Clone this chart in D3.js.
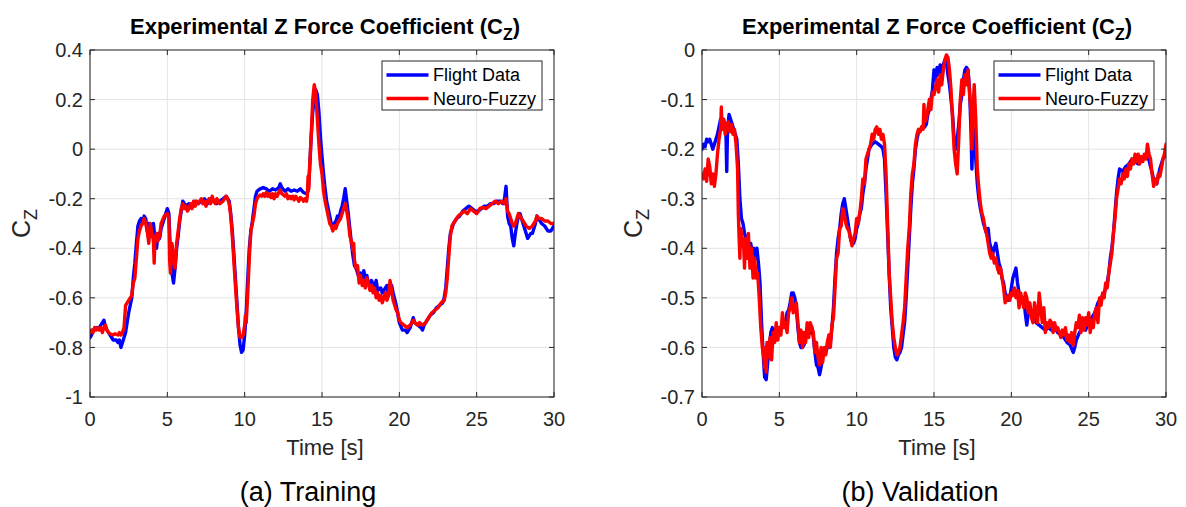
<!DOCTYPE html>
<html>
<head>
<meta charset="utf-8">
<script src="https://cdn.jsdelivr.net/npm/d3@7"></script>
<style>
  html, body { margin: 0; padding: 0; background: #fff; }
  svg { display: block; font-family: "Liberation Sans", Arial, Helvetica, sans-serif; }
</style>
</head>
<body>
<svg id="chart" width="1186" height="507"></svg>
<script>
// ---------------- DATA ----------------
const xTicks = [0, 5, 10, 15, 20, 25, 30];
const yTicksTrain = [-1, -0.8, -0.6, -0.4, -0.2, 0, 0.2, 0.4];
const yTicksValid = [-0.7, -0.6, -0.5, -0.4, -0.3, -0.2, -0.1, 0];
const seriesNames = ["Flight Data", "Neuro-Fuzzy"];
const captions = ["(a) Training", "(b) Validation"];

// Training — Flight Data  [time s, Cz]
const trainFlight = [
[0.0,-0.76],[0.1,-0.75],[0.2,-0.73],[0.4,-0.72],[0.6,-0.72],[0.8,-0.70],[0.9,-0.69],[1.0,-0.72],[1.2,-0.74],[1.4,-0.76],
[1.5,-0.77],[1.7,-0.77],[1.8,-0.78],[1.9,-0.77],[2.0,-0.80],[2.1,-0.78],[2.3,-0.74],[2.5,-0.66],[2.7,-0.60],[2.8,-0.52],
[2.9,-0.46],[3.0,-0.38],[3.1,-0.31],[3.2,-0.29],[3.3,-0.28],[3.4,-0.30],[3.5,-0.27],[3.6,-0.28],[3.7,-0.33],[3.8,-0.30],
[3.9,-0.34],[4.0,-0.31],[4.1,-0.30],[4.2,-0.36],[4.3,-0.40],[4.4,-0.34],[4.5,-0.36],[4.6,-0.32],[4.8,-0.28],[5.0,-0.24],
[5.1,-0.26],[5.2,-0.42],[5.3,-0.50],[5.4,-0.54],[5.5,-0.48],[5.6,-0.40],[5.7,-0.35],[5.8,-0.29],[5.9,-0.25],[6.0,-0.21],
[6.1,-0.22],[6.2,-0.23],[6.4,-0.22],[6.6,-0.23],[6.8,-0.21],[7.0,-0.22],[7.2,-0.21],[7.4,-0.20],[7.6,-0.22],[7.8,-0.20],
[8.0,-0.21],[8.2,-0.22],[8.4,-0.21],[8.6,-0.20],[8.8,-0.19],[9.0,-0.21],[9.1,-0.26],[9.2,-0.33],[9.3,-0.42],[9.4,-0.52],
[9.5,-0.62],[9.6,-0.72],[9.7,-0.79],[9.8,-0.82],[9.9,-0.81],[10.0,-0.75],[10.1,-0.66],[10.2,-0.52],[10.3,-0.40],[10.4,-0.33],
[10.5,-0.29],[10.6,-0.24],[10.7,-0.19],[10.8,-0.17],[11.0,-0.16],[11.2,-0.155],[11.4,-0.16],[11.6,-0.17],[11.8,-0.16],[12.0,-0.165],
[12.2,-0.155],[12.3,-0.14],[12.4,-0.155],[12.6,-0.17],[12.8,-0.16],[13.0,-0.17],[13.2,-0.165],[13.4,-0.17],[13.6,-0.16],[13.8,-0.175],
[14.0,-0.18],[14.1,-0.17],[14.2,-0.08],[14.3,0.05],[14.4,0.15],[14.5,0.20],[14.6,0.24],[14.7,0.22],[14.8,0.15],[14.9,0.05],
[15.0,-0.03],[15.1,-0.10],[15.2,-0.16],[15.3,-0.21],[15.4,-0.24],[15.5,-0.27],[15.6,-0.30],[15.7,-0.31],[15.8,-0.30],[15.9,-0.29],
[16.0,-0.27],[16.1,-0.28],[16.2,-0.25],[16.3,-0.23],[16.4,-0.20],[16.5,-0.16],[16.6,-0.21],[16.7,-0.26],[16.8,-0.32],[16.9,-0.38],
[17.0,-0.43],[17.1,-0.47],[17.2,-0.48],[17.3,-0.50],[17.4,-0.52],[17.5,-0.50],[17.6,-0.53],[17.7,-0.49],[17.8,-0.52],[17.9,-0.51],
[18.0,-0.54],[18.1,-0.55],[18.2,-0.53],[18.4,-0.56],[18.5,-0.53],[18.6,-0.57],[18.8,-0.56],[18.9,-0.58],[19.0,-0.57],[19.2,-0.55],
[19.3,-0.59],[19.5,-0.55],[19.6,-0.58],[19.8,-0.63],[20.0,-0.70],[20.2,-0.73],[20.4,-0.73],[20.5,-0.74],[20.7,-0.72],[20.9,-0.68],
[21.0,-0.70],[21.2,-0.71],[21.4,-0.72],[21.5,-0.73],[21.6,-0.71],[21.8,-0.69],[22.0,-0.67],[22.2,-0.66],[22.4,-0.64],[22.6,-0.63],
[22.8,-0.62],[22.9,-0.60],[23.0,-0.56],[23.1,-0.48],[23.2,-0.40],[23.3,-0.34],[23.5,-0.30],[23.7,-0.28],[23.9,-0.27],[24.1,-0.25],
[24.3,-0.24],[24.5,-0.23],[24.7,-0.24],[24.9,-0.25],[25.1,-0.25],[25.3,-0.24],[25.5,-0.23],[25.7,-0.23],[25.9,-0.22],[26.1,-0.22],
[26.3,-0.21],[26.5,-0.21],[26.7,-0.22],[26.8,-0.20],[26.9,-0.15],[27.0,-0.27],[27.1,-0.30],[27.2,-0.31],[27.3,-0.36],[27.4,-0.39],
[27.5,-0.34],[27.6,-0.30],[27.7,-0.27],[27.8,-0.26],[27.9,-0.28],[28.0,-0.30],[28.1,-0.32],[28.2,-0.34],[28.3,-0.36],[28.4,-0.35],
[28.5,-0.34],[28.6,-0.34],[28.8,-0.30],[28.9,-0.27],[29.0,-0.28],[29.2,-0.30],[29.4,-0.31],[29.6,-0.33],[29.8,-0.33],[30.0,-0.31]
];

// Training — Neuro-Fuzzy
const trainNF = [
[0.0,-0.74],[0.1,-0.73],[0.2,-0.74],[0.3,-0.72],[0.4,-0.73],[0.5,-0.72],[0.6,-0.73],[0.7,-0.72],[0.8,-0.74],[0.9,-0.72],
[1.0,-0.71],[1.1,-0.73],[1.2,-0.74],[1.3,-0.745],[1.5,-0.75],[1.6,-0.745],[1.8,-0.75],[1.9,-0.74],[2.0,-0.75],[2.1,-0.74],
[2.2,-0.72],[2.3,-0.63],[2.4,-0.62],[2.6,-0.60],[2.7,-0.59],[2.8,-0.54],[2.9,-0.52],[3.0,-0.44],[3.1,-0.36],[3.2,-0.33],
[3.3,-0.31],[3.4,-0.30],[3.5,-0.28],[3.6,-0.30],[3.7,-0.33],[3.8,-0.38],[3.9,-0.30],[4.0,-0.34],[4.1,-0.37],[4.15,-0.46],
[4.2,-0.36],[4.3,-0.34],[4.4,-0.37],[4.5,-0.35],[4.6,-0.30],[4.8,-0.27],[5.0,-0.26],[5.1,-0.28],[5.15,-0.45],[5.2,-0.50],
[5.3,-0.38],[5.4,-0.44],[5.5,-0.48],[5.6,-0.38],[5.7,-0.33],[5.8,-0.28],[5.9,-0.24],[6.0,-0.22],[6.1,-0.24],[6.2,-0.23],
[6.3,-0.25],[6.4,-0.24],[6.5,-0.22],[6.6,-0.24],[6.7,-0.21],[6.8,-0.23],[6.9,-0.21],[7.0,-0.22],[7.2,-0.20],[7.3,-0.22],
[7.4,-0.21],[7.5,-0.23],[7.6,-0.21],[7.7,-0.20],[7.8,-0.22],[7.9,-0.19],[8.0,-0.21],[8.1,-0.22],[8.2,-0.20],[8.3,-0.21],
[8.4,-0.22],[8.6,-0.21],[8.7,-0.20],[8.8,-0.19],[8.9,-0.20],[9.0,-0.22],[9.1,-0.27],[9.2,-0.35],[9.3,-0.45],[9.4,-0.55],
[9.5,-0.64],[9.6,-0.72],[9.7,-0.76],[9.8,-0.76],[9.9,-0.75],[10.0,-0.71],[10.05,-0.67],[10.1,-0.70],[10.2,-0.58],[10.3,-0.44],
[10.4,-0.33],[10.5,-0.30],[10.6,-0.27],[10.7,-0.22],[10.8,-0.20],[10.9,-0.19],[11.0,-0.185],[11.1,-0.19],[11.2,-0.18],[11.3,-0.19],
[11.4,-0.175],[11.5,-0.19],[11.6,-0.18],[11.7,-0.195],[11.8,-0.18],[11.9,-0.20],[12.0,-0.18],[12.1,-0.19],[12.2,-0.175],[12.3,-0.165],
[12.4,-0.18],[12.5,-0.185],[12.6,-0.19],[12.7,-0.18],[12.8,-0.20],[12.9,-0.19],[13.0,-0.20],[13.1,-0.19],[13.2,-0.205],[13.3,-0.19],
[13.4,-0.20],[13.5,-0.21],[13.6,-0.195],[13.7,-0.20],[13.8,-0.21],[13.9,-0.20],[14.0,-0.21],[14.05,-0.19],[14.1,-0.11],[14.15,-0.16],
[14.2,-0.07],[14.3,0.05],[14.4,0.20],[14.5,0.26],[14.6,0.22],[14.7,0.12],[14.8,0.02],[14.9,-0.06],[15.0,-0.10],[15.1,-0.17],
[15.2,-0.21],[15.3,-0.24],[15.4,-0.27],[15.5,-0.30],[15.6,-0.31],[15.7,-0.33],[15.8,-0.31],[15.9,-0.32],[16.0,-0.30],[16.1,-0.29],
[16.2,-0.28],[16.3,-0.26],[16.4,-0.24],[16.5,-0.22],[16.6,-0.25],[16.7,-0.29],[16.8,-0.35],[16.9,-0.37],[17.0,-0.41],[17.05,-0.38],
[17.1,-0.45],[17.2,-0.48],[17.3,-0.47],[17.4,-0.54],[17.5,-0.51],[17.6,-0.55],[17.7,-0.53],[17.8,-0.56],[17.9,-0.52],[18.0,-0.54],
[18.1,-0.57],[18.2,-0.55],[18.3,-0.58],[18.4,-0.56],[18.5,-0.60],[18.6,-0.58],[18.7,-0.61],[18.8,-0.59],[18.9,-0.62],[19.0,-0.60],
[19.1,-0.58],[19.2,-0.61],[19.3,-0.59],[19.4,-0.53],[19.5,-0.57],[19.6,-0.61],[19.7,-0.63],[19.8,-0.65],[19.9,-0.66],[20.0,-0.69],
[20.1,-0.70],[20.3,-0.71],[20.5,-0.72],[20.7,-0.71],[20.9,-0.69],[21.0,-0.70],[21.2,-0.71],[21.3,-0.70],[21.5,-0.71],[21.7,-0.70],
[21.9,-0.68],[22.1,-0.66],[22.3,-0.65],[22.5,-0.64],[22.7,-0.62],[22.9,-0.61],[23.0,-0.58],[23.1,-0.52],[23.2,-0.43],[23.3,-0.35],
[23.4,-0.31],[23.6,-0.29],[23.8,-0.27],[24.0,-0.26],[24.2,-0.25],[24.4,-0.26],[24.6,-0.24],[24.8,-0.25],[25.0,-0.26],[25.2,-0.24],
[25.4,-0.235],[25.6,-0.24],[25.8,-0.23],[26.0,-0.22],[26.2,-0.21],[26.4,-0.22],[26.6,-0.21],[26.8,-0.22],[26.9,-0.20],[27.0,-0.25],
[27.1,-0.26],[27.2,-0.28],[27.3,-0.30],[27.4,-0.31],[27.5,-0.30],[27.6,-0.28],[27.7,-0.26],[27.8,-0.27],[28.0,-0.29],[28.2,-0.31],
[28.4,-0.32],[28.6,-0.31],[28.8,-0.29],[28.9,-0.27],[29.0,-0.28],[29.2,-0.28],[29.4,-0.29],[29.6,-0.29],[29.8,-0.30],[30.0,-0.30]
];

// Validation — Flight Data
const validFlight = [
[0.0,-0.20],[0.1,-0.19],[0.2,-0.195],[0.3,-0.18],[0.4,-0.185],[0.5,-0.18],[0.6,-0.19],[0.7,-0.20],[0.8,-0.19],[0.9,-0.18],
[1.0,-0.17],[1.1,-0.155],[1.2,-0.14],[1.3,-0.145],[1.4,-0.14],[1.5,-0.16],[1.55,-0.17],[1.6,-0.245],[1.65,-0.16],[1.75,-0.13],
[1.85,-0.14],[1.95,-0.15],[2.05,-0.16],[2.15,-0.17],[2.25,-0.18],[2.35,-0.23],[2.45,-0.30],[2.55,-0.34],[2.65,-0.35],[2.75,-0.37],
[2.85,-0.38],[2.95,-0.39],[3.05,-0.40],[3.15,-0.39],[3.25,-0.41],[3.35,-0.40],[3.45,-0.42],[3.55,-0.40],[3.65,-0.43],[3.75,-0.47],
[3.85,-0.55],[3.95,-0.61],[4.05,-0.66],[4.15,-0.665],[4.25,-0.63],[4.35,-0.60],[4.45,-0.57],[4.55,-0.56],[4.65,-0.58],[4.75,-0.565],
[4.85,-0.58],[4.95,-0.56],[5.05,-0.565],[5.2,-0.55],[5.35,-0.56],[5.5,-0.53],[5.6,-0.525],[5.7,-0.51],[5.8,-0.49],[5.9,-0.49],
[6.0,-0.50],[6.1,-0.52],[6.2,-0.56],[6.3,-0.59],[6.4,-0.60],[6.5,-0.60],[6.6,-0.595],[6.7,-0.58],[6.8,-0.57],[6.9,-0.56],
[7.0,-0.57],[7.1,-0.56],[7.2,-0.58],[7.3,-0.61],[7.4,-0.635],[7.5,-0.64],[7.6,-0.655],[7.7,-0.64],[7.8,-0.62],[7.9,-0.61],
[8.0,-0.61],[8.1,-0.60],[8.2,-0.58],[8.3,-0.59],[8.4,-0.56],[8.5,-0.52],[8.6,-0.46],[8.7,-0.41],[8.8,-0.38],[8.9,-0.36],
[9.0,-0.33],[9.1,-0.31],[9.2,-0.30],[9.3,-0.32],[9.4,-0.34],[9.5,-0.36],[9.6,-0.38],[9.7,-0.39],[9.8,-0.39],[9.9,-0.38],
[10.0,-0.36],[10.1,-0.35],[10.2,-0.33],[10.3,-0.32],[10.4,-0.29],[10.5,-0.27],[10.6,-0.24],[10.7,-0.22],[10.8,-0.20],[10.9,-0.195],
[11.0,-0.19],[11.2,-0.185],[11.4,-0.19],[11.6,-0.195],[11.7,-0.20],[11.8,-0.22],[11.9,-0.29],[12.0,-0.37],[12.1,-0.45],[12.2,-0.52],
[12.3,-0.56],[12.4,-0.60],[12.5,-0.62],[12.6,-0.625],[12.7,-0.615],[12.8,-0.61],[12.9,-0.60],[13.0,-0.575],[13.1,-0.55],[13.2,-0.50],
[13.3,-0.44],[13.4,-0.38],[13.5,-0.32],[13.6,-0.27],[13.7,-0.24],[13.8,-0.20],[13.9,-0.18],[14.0,-0.165],[14.2,-0.16],[14.4,-0.155],
[14.5,-0.15],[14.6,-0.13],[14.7,-0.12],[14.8,-0.10],[14.9,-0.08],[15.0,-0.04],[15.1,-0.06],[15.2,-0.035],[15.3,-0.05],[15.4,-0.03],
[15.5,-0.06],[15.6,-0.03],[15.7,-0.02],[15.8,-0.025],[15.9,-0.05],[16.0,-0.07],[16.1,-0.10],[16.2,-0.13],[16.3,-0.18],[16.4,-0.20],
[16.5,-0.18],[16.6,-0.15],[16.7,-0.11],[16.8,-0.09],[16.9,-0.06],[17.0,-0.04],[17.1,-0.035],[17.2,-0.04],[17.3,-0.08],[17.4,-0.17],
[17.45,-0.24],[17.5,-0.19],[17.6,-0.16],[17.7,-0.22],[17.8,-0.27],[17.9,-0.30],[18.0,-0.32],[18.2,-0.35],[18.4,-0.37],[18.5,-0.36],
[18.6,-0.39],[18.8,-0.41],[18.9,-0.40],[19.0,-0.39],[19.1,-0.41],[19.2,-0.43],[19.3,-0.44],[19.4,-0.46],[19.5,-0.47],[19.6,-0.49],
[19.7,-0.50],[19.8,-0.505],[19.9,-0.50],[20.0,-0.48],[20.1,-0.46],[20.2,-0.45],[20.3,-0.44],[20.4,-0.47],[20.5,-0.49],[20.6,-0.50],
[20.7,-0.505],[20.8,-0.50],[20.9,-0.53],[21.0,-0.555],[21.1,-0.53],[21.2,-0.52],[21.4,-0.535],[21.6,-0.55],[21.8,-0.555],[22.0,-0.56],
[22.2,-0.565],[22.4,-0.56],[22.6,-0.565],[22.8,-0.56],[23.0,-0.57],[23.2,-0.575],[23.4,-0.58],[23.6,-0.59],[23.8,-0.595],[24.0,-0.61],
[24.1,-0.60],[24.2,-0.585],[24.4,-0.57],[24.6,-0.56],[24.8,-0.565],[25.0,-0.55],[25.2,-0.54],[25.4,-0.53],[25.6,-0.51],[25.8,-0.50],
[26.0,-0.49],[26.2,-0.47],[26.3,-0.45],[26.4,-0.42],[26.5,-0.40],[26.6,-0.37],[26.7,-0.33],[26.8,-0.29],[26.9,-0.26],[27.0,-0.24],
[27.2,-0.245],[27.4,-0.235],[27.6,-0.23],[27.8,-0.22],[28.0,-0.225],[28.2,-0.23],[28.4,-0.22],[28.6,-0.215],[28.8,-0.21],[29.0,-0.235],
[29.2,-0.26],[29.4,-0.27],[29.6,-0.24],[29.8,-0.22],[30.0,-0.21]
];

// Validation — Neuro-Fuzzy
const validNF = [
[0.0,-0.25],[0.1,-0.26],[0.2,-0.24],[0.3,-0.265],[0.4,-0.22],[0.5,-0.235],[0.6,-0.27],[0.7,-0.25],[0.8,-0.275],[0.9,-0.25],
[1.0,-0.21],[1.1,-0.18],[1.2,-0.16],[1.25,-0.115],[1.3,-0.16],[1.4,-0.14],[1.5,-0.17],[1.6,-0.15],[1.7,-0.145],[1.8,-0.165],
[1.9,-0.15],[2.0,-0.17],[2.1,-0.16],[2.2,-0.19],[2.3,-0.24],[2.35,-0.33],[2.4,-0.38],[2.45,-0.42],[2.5,-0.36],[2.6,-0.38],
[2.7,-0.40],[2.75,-0.44],[2.8,-0.38],[2.9,-0.42],[3.0,-0.37],[3.1,-0.44],[3.2,-0.40],[3.3,-0.46],[3.4,-0.42],[3.5,-0.46],
[3.6,-0.45],[3.7,-0.50],[3.8,-0.56],[3.9,-0.60],[4.0,-0.62],[4.05,-0.64],[4.1,-0.60],[4.15,-0.65],[4.2,-0.59],[4.3,-0.62],
[4.4,-0.58],[4.5,-0.625],[4.6,-0.57],[4.7,-0.59],[4.8,-0.55],[4.9,-0.585],[5.0,-0.56],[5.1,-0.575],[5.2,-0.53],[5.3,-0.56],
[5.4,-0.55],[5.5,-0.57],[5.6,-0.53],[5.7,-0.52],[5.8,-0.50],[5.9,-0.53],[6.0,-0.52],[6.1,-0.51],[6.2,-0.55],[6.3,-0.59],
[6.4,-0.565],[6.5,-0.60],[6.6,-0.57],[6.7,-0.59],[6.8,-0.55],[6.9,-0.58],[7.0,-0.55],[7.1,-0.56],[7.2,-0.57],[7.3,-0.61],
[7.4,-0.59],[7.5,-0.62],[7.6,-0.635],[7.7,-0.60],[7.8,-0.63],[7.9,-0.60],[8.0,-0.615],[8.1,-0.59],[8.2,-0.575],[8.3,-0.60],
[8.4,-0.555],[8.5,-0.54],[8.6,-0.48],[8.7,-0.42],[8.8,-0.41],[8.9,-0.36],[9.0,-0.355],[9.1,-0.32],[9.2,-0.33],[9.3,-0.35],
[9.4,-0.36],[9.5,-0.365],[9.6,-0.38],[9.7,-0.395],[9.8,-0.38],[9.9,-0.37],[10.0,-0.34],[10.1,-0.35],[10.2,-0.33],[10.3,-0.30],
[10.4,-0.26],[10.5,-0.27],[10.6,-0.22],[10.7,-0.21],[10.8,-0.20],[10.9,-0.19],[11.0,-0.17],[11.1,-0.18],[11.2,-0.16],[11.3,-0.155],
[11.4,-0.17],[11.5,-0.16],[11.6,-0.18],[11.7,-0.17],[11.8,-0.19],[11.9,-0.25],[12.0,-0.35],[12.1,-0.45],[12.2,-0.50],[12.3,-0.55],
[12.4,-0.58],[12.5,-0.60],[12.6,-0.615],[12.7,-0.61],[12.8,-0.60],[12.9,-0.575],[13.0,-0.55],[13.1,-0.52],[13.2,-0.46],[13.3,-0.40],
[13.4,-0.36],[13.5,-0.29],[13.6,-0.25],[13.7,-0.23],[13.8,-0.19],[13.9,-0.17],[14.0,-0.16],[14.1,-0.165],[14.2,-0.155],[14.3,-0.16],
[14.35,-0.11],[14.4,-0.145],[14.5,-0.14],[14.6,-0.12],[14.7,-0.10],[14.8,-0.12],[14.9,-0.085],[15.0,-0.09],[15.1,-0.075],[15.2,-0.06],
[15.3,-0.085],[15.4,-0.05],[15.5,-0.07],[15.6,-0.04],[15.7,-0.02],[15.8,-0.01],[15.9,-0.015],[16.0,-0.04],[16.1,-0.08],[16.2,-0.14],
[16.3,-0.20],[16.4,-0.23],[16.5,-0.25],[16.6,-0.18],[16.7,-0.10],[16.8,-0.06],[16.9,-0.09],[17.0,-0.05],[17.1,-0.07],[17.2,-0.04],
[17.3,-0.09],[17.4,-0.13],[17.45,-0.20],[17.5,-0.14],[17.6,-0.07],[17.7,-0.14],[17.8,-0.24],[17.9,-0.28],[18.0,-0.31],[18.1,-0.33],
[18.2,-0.34],[18.3,-0.36],[18.4,-0.37],[18.5,-0.39],[18.6,-0.41],[18.7,-0.42],[18.8,-0.41],[18.9,-0.43],[19.0,-0.42],[19.1,-0.44],
[19.2,-0.45],[19.3,-0.44],[19.4,-0.46],[19.5,-0.48],[19.6,-0.51],[19.7,-0.50],[19.8,-0.495],[19.9,-0.505],[20.0,-0.49],[20.1,-0.495],
[20.2,-0.48],[20.3,-0.50],[20.4,-0.485],[20.5,-0.52],[20.6,-0.49],[20.7,-0.505],[20.8,-0.52],[20.9,-0.49],[21.0,-0.50],[21.1,-0.53],
[21.2,-0.51],[21.3,-0.54],[21.4,-0.55],[21.5,-0.51],[21.6,-0.53],[21.7,-0.55],[21.8,-0.49],[21.9,-0.52],[22.0,-0.55],[22.1,-0.52],
[22.2,-0.57],[22.3,-0.55],[22.4,-0.56],[22.5,-0.545],[22.6,-0.55],[22.7,-0.57],[22.8,-0.55],[22.9,-0.565],[23.0,-0.56],[23.2,-0.58],
[23.3,-0.565],[23.4,-0.575],[23.5,-0.56],[23.6,-0.585],[23.7,-0.575],[23.8,-0.59],[23.9,-0.57],[24.0,-0.595],[24.1,-0.57],[24.2,-0.55],
[24.3,-0.56],[24.4,-0.535],[24.5,-0.57],[24.6,-0.54],[24.7,-0.565],[24.8,-0.54],[24.9,-0.555],[25.0,-0.53],[25.1,-0.57],[25.2,-0.545],
[25.3,-0.56],[25.4,-0.53],[25.5,-0.52],[25.6,-0.55],[25.7,-0.50],[25.8,-0.515],[25.9,-0.49],[26.0,-0.50],[26.1,-0.47],[26.2,-0.48],
[26.3,-0.45],[26.4,-0.43],[26.5,-0.41],[26.6,-0.37],[26.7,-0.34],[26.8,-0.30],[26.9,-0.28],[27.0,-0.26],[27.1,-0.27],[27.2,-0.25],
[27.3,-0.26],[27.4,-0.24],[27.5,-0.255],[27.6,-0.23],[27.7,-0.24],[27.8,-0.22],[27.9,-0.23],[28.0,-0.21],[28.1,-0.225],[28.2,-0.21],
[28.3,-0.23],[28.4,-0.215],[28.5,-0.225],[28.6,-0.21],[28.7,-0.22],[28.8,-0.19],[28.9,-0.21],[29.0,-0.22],[29.1,-0.25],[29.2,-0.275],
[29.3,-0.26],[29.4,-0.27],[29.5,-0.25],[29.6,-0.255],[29.7,-0.24],[29.8,-0.22],[29.9,-0.21],[30.0,-0.19]
];

// ---------------- DRAW ----------------
const svg = d3.select("#chart");
const axisColor = "#262626";
const gridColor = "#e3e3e3";
const colors = ["#0000ff", "#ff0000"];

const panels = [
  { left: 90, right: 554, top: 50, bottom: 397, yDomain: [-1, 0.4], yTicks: yTicksTrain,
    series: [trainFlight, trainNF], caption: captions[0], id: "a" },
  { left: 702, right: 1166, top: 50, bottom: 397, yDomain: [-0.7, 0], yTicks: yTicksValid,
    series: [validFlight, validNF], caption: captions[1], id: "b" }
];

const fmt = v => d3.format("~g")(+v.toFixed(2)).replace("\u2212", "-");

panels.forEach(p => {
  const x = d3.scaleLinear().domain([0, 30]).range([p.left, p.right]);
  const y = d3.scaleLinear().domain(p.yDomain).range([p.bottom, p.top]);
  const g = svg.append("g");
  const W = p.right - p.left, H = p.bottom - p.top;

  g.append("rect").attr("x", p.left).attr("y", p.top).attr("width", W).attr("height", H).attr("fill", "#fff");

  // grid
  g.append("g").selectAll("line").data(xTicks).join("line")
    .attr("x1", d => x(d)).attr("x2", d => x(d)).attr("y1", p.top).attr("y2", p.bottom)
    .attr("stroke", gridColor).attr("stroke-width", 1);
  g.append("g").selectAll("line").data(p.yTicks).join("line")
    .attr("y1", d => y(d)).attr("y2", d => y(d)).attr("x1", p.left).attr("x2", p.right)
    .attr("stroke", gridColor).attr("stroke-width", 1);

  // clip
  const clipId = "clip-" + p.id;
  svg.append("clipPath").attr("id", clipId).append("rect")
    .attr("x", p.left).attr("y", p.top).attr("width", W).attr("height", H);

  const line = d3.line().x(d => x(d[0])).y(d => y(d[1]));
  const lg = g.append("g").attr("clip-path", `url(#${clipId})`);
  p.series.forEach((s, i) => {
    lg.append("path").datum(s).attr("d", line)
      .attr("fill", "none").attr("stroke", colors[i]).attr("stroke-width", 3.4)
      .attr("stroke-linejoin", "round").attr("stroke-linecap", "round");
  });

  // axes (ticks inward, box on)
  const tickLen = 5;
  const ax = g.append("g").attr("fill", "none").attr("stroke", axisColor).attr("stroke-width", 1);
  ax.append("rect").attr("x", p.left).attr("y", p.top).attr("width", W).attr("height", H);
  xTicks.forEach(t => {
    ax.append("line").attr("x1", x(t)).attr("x2", x(t)).attr("y1", p.bottom).attr("y2", p.bottom - tickLen);
    ax.append("line").attr("x1", x(t)).attr("x2", x(t)).attr("y1", p.top).attr("y2", p.top + tickLen);
  });
  p.yTicks.forEach(t => {
    ax.append("line").attr("y1", y(t)).attr("y2", y(t)).attr("x1", p.left).attr("x2", p.left + tickLen);
    ax.append("line").attr("y1", y(t)).attr("y2", y(t)).attr("x1", p.right).attr("x2", p.right - tickLen);
  });

  // tick labels
  g.append("g").selectAll("text").data(xTicks).join("text")
    .attr("x", d => x(d)).attr("y", p.bottom + 29)
    .attr("text-anchor", "middle").attr("font-size", 20).attr("fill", axisColor)
    .text(d => d);
  g.append("g").selectAll("text").data(p.yTicks).join("text")
    .attr("x", p.left - 7).attr("y", d => y(d)).attr("dy", "0.36em")
    .attr("text-anchor", "end").attr("font-size", 20).attr("fill", axisColor)
    .text(d => fmt(d));

  // x label
  g.append("text").attr("x", (p.left + p.right) / 2 + 3).attr("y", p.bottom + 58)
    .attr("text-anchor", "middle").attr("font-size", 22).attr("fill", axisColor).text("Time [s]");

  // y label
  const yl = g.append("text")
    .attr("transform", `translate(${p.left - 60},${(p.top + p.bottom) / 2}) rotate(-90)`)
    .attr("text-anchor", "middle").attr("font-size", 25).attr("fill", axisColor);
  yl.append("tspan").text("C");
  yl.append("tspan").attr("font-size", 18).attr("dy", 7).text("Z");

  // title
  const tt = g.append("text").attr("x", (p.left + p.right) / 2 + 3).attr("y", 34)
    .attr("text-anchor", "middle").attr("font-size", 22).attr("font-weight", "bold").attr("fill", "#000");
  tt.append("tspan").text("Experimental Z Force Coefficient (C");
  tt.append("tspan").attr("font-size", 16).attr("dy", 6).text("Z");
  tt.append("tspan").attr("dy", -6).text(")");

  // legend
  const lx = p.right - 12 - 160, ly = p.top + 11;
  const leg = g.append("g");
  leg.append("rect").attr("x", lx).attr("y", ly).attr("width", 160).attr("height", 49)
    .attr("fill", "#fff").attr("stroke", axisColor).attr("stroke-width", 1);
  seriesNames.forEach((n, i) => {
    const cy = ly + 14 + i * 23.5;
    leg.append("line").attr("x1", lx + 4.5).attr("x2", lx + 46.5).attr("y1", cy).attr("y2", cy)
      .attr("stroke", colors[i]).attr("stroke-width", 3.4);
    leg.append("text").attr("x", lx + 51).attr("y", cy).attr("dy", "0.35em")
      .attr("font-size", 18).attr("fill", "#000").text(n);
  });

  // caption
  svg.append("text").attr("x", (p.left + p.right) / 2 - 14).attr("y", 501)
    .attr("text-anchor", "middle").attr("font-size", 27).attr("fill", "#000").text(p.caption);
});
</script>
</body>
</html>
